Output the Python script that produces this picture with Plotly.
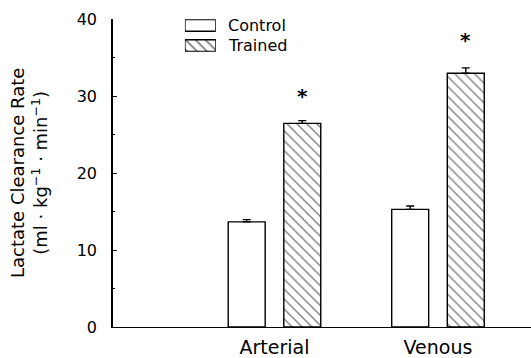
import plotly.graph_objects as go

# ---- data ----
categories = ["Arterial", "Venous"]
cat_pos = [1, 2]
control = [13.65, 15.27]
control_err = [0.30, 0.45]
trained = [26.45, 32.95]
trained_err = [0.35, 0.70]
sig_y = [30.0, 37.3]          # positions of the asterisks above Trained bars
series_names = ["Control", "Trained"]
y_ticks = [0, 10, 20, 30, 40]

FONT = "DejaVu Sans"
BARGAP = 0.32
BARGROUPGAP = 0.335
half_slot = (1 - BARGAP) / 4  # centre offset of each bar in a 2-bar group

fig = go.Figure()

fig.add_trace(go.Bar(
    x=cat_pos, y=control, name=series_names[0],
    marker=dict(color="white", line=dict(color="black", width=1.4)),
    error_y=dict(type="data", symmetric=False, array=control_err,
                 arrayminus=[0] * len(control), color="black", thickness=1.4, width=4),
    showlegend=False,
))
fig.add_trace(go.Bar(
    x=cat_pos, y=trained, name=series_names[1],
    marker=dict(color="white", line=dict(color="black", width=1.4),
                pattern=dict(shape="\\", fgcolor="black", bgcolor="white",
                             size=7, solidity=0.2)),
    error_y=dict(type="data", symmetric=False, array=trained_err,
                 arrayminus=[0] * len(trained), color="black", thickness=1.4, width=4),
    showlegend=False,
))

# legend swatches drawn as a small bar chart on auxiliary axes
fig.add_trace(go.Bar(
    y=[0, 1], x=[1, 1], orientation="h", width=0.58,
    marker=dict(color="white", line=dict(color="black", width=1.4),
                pattern=dict(shape=["", "\\"], fgcolor="black", bgcolor="white",
                             size=7, solidity=0.25)),
    xaxis="x2", yaxis="y2", showlegend=False, hoverinfo="skip",
))

annotations = []
for i, name in enumerate(series_names):
    annotations.append(dict(
        xref="x2", yref="y2", x=1, y=i, xshift=10, xanchor="left", yanchor="middle",
        text=name, showarrow=False, font=dict(family=FONT, size=16, color="black"),
    ))
for p, sy in zip(cat_pos, sig_y):
    annotations.append(dict(
        xref="x", yref="y", x=p + half_slot, y=sy, text="<b>*</b>", showarrow=False,
        xanchor="center", yanchor="middle",
        font=dict(family=FONT, size=20, color="black"),
    ))
annotations.append(dict(
    xref="paper", yref="paper", x=0, xshift=-84, y=0.5,
    xanchor="center", yanchor="middle", textangle=-90, showarrow=False,
    text="Lactate Clearance Rate<br>(ml · kg<sup>−1</sup> · min<sup>−1</sup>)",
    font=dict(family=FONT, size=18, color="black"),
))

fig.update_layout(
    width=531, height=358,
    margin=dict(l=113, r=0, t=19, b=31),
    paper_bgcolor="white", plot_bgcolor="white",
    barmode="group", bargap=BARGAP, bargroupgap=BARGROUPGAP,
    showlegend=False,
    annotations=annotations,
    xaxis=dict(
        range=[0.0122, 2.569], tickvals=cat_pos, ticktext=categories,
        showline=True, linecolor="black", linewidth=1.3, ticks="",
        showgrid=False, zeroline=False, automargin=False,
        tickfont=dict(family=FONT, size=19, color="black"), ticklabelstandoff=3,
    ),
    yaxis=dict(
        range=[0, 40], tickvals=y_ticks,
        showline=True, linecolor="black", linewidth=1.6,
        ticks="inside", ticklen=4, tickwidth=1.3, tickcolor="black",
        minor=dict(ticks="inside", ticklen=2, tickwidth=1.2, dtick=5, tickcolor="black"),
        showgrid=False, zeroline=False, automargin=False,
        tickfont=dict(family=FONT, size=16, color="black"), ticklabelstandoff=11,
    ),
    xaxis2=dict(domain=[0.172, 0.246], range=[0, 1], anchor="y2",
                visible=False, fixedrange=True),
    yaxis2=dict(domain=[0.894, 0.999], range=[1.3, -0.3], anchor="x2",
                visible=False, fixedrange=True),
)

fig.write_html("out.html")
